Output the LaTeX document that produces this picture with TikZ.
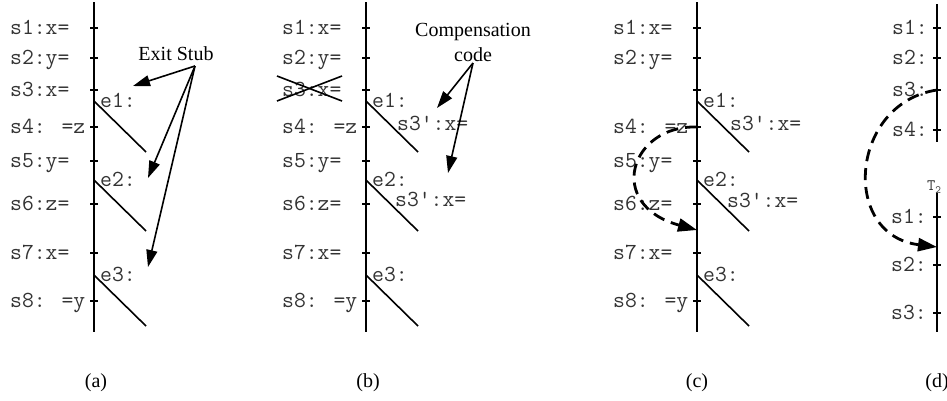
\documentclass[tikz,border=0pt]{standalone}
\usepackage{fontspec}
\setmainfont{Liberation Serif}
\usetikzlibrary{arrows.meta}
\begin{document}
\begin{tikzpicture}[x=1pt,y=-1pt,
  axis/.style={line width=2.2pt},
  tickmark/.style={line width=1.8pt},
  stub/.style={line width=1.6pt},
  lbl/.style={font=\ttfamily\fontsize{23}{23}\selectfont, text=black!80, inner sep=0pt, anchor=base west},
  smalllbl/.style={font=\ttfamily\fontsize{16}{16}\selectfont, text=black!80, inner sep=0pt, anchor=base west},
  captext/.style={font=\fontsize{20}{25}\selectfont, inner sep=0pt, align=center},
  callout/.style={line width=1.6pt, -{Triangle[length=17pt,width=11pt]}},
  flow/.style={line width=2.8pt, dash pattern=on 12pt off 7pt, -{Triangle[length=19pt,width=13pt]}},
]
\useasboundingbox (0,0) rectangle (947,400);

% ---- panels a, b, c: axis, ticks, exit stubs
\foreach \p/\x in {a/94,b/366,c/697} {
  \coordinate (\p-top) at (\x,2);
  \coordinate (\p-bot) at (\x,332);
  \draw[axis] (\p-top) -- (\p-bot);
  \foreach \i/\y in {1/28,2/58,3/90,4/127,5/161,6/204,7/253,8/301} {
    \coordinate (\p-t\i) at (\x,\y);
    \draw[tickmark] ([xshift=-4pt]\p-t\i) -- ([xshift=4pt]\p-t\i);
  }
  \foreach \i/\y in {1/101,2/180,3/275} {
    \coordinate (\p-e\i) at (\x,\y);
    \coordinate (\p-f\i) at (\x+52,\y+51);
    \draw[stub] (\p-e\i) -- (\p-f\i);
    \node[lbl] (\p-el\i) at (\x+6,\y+6) {e\i:};
  }
}

% ---- statement labels
\foreach \p/\x in {a/10,b/282,c/613} {
  \node[lbl] (\p-s1) at (\x,34) {s1:x=};
  \node[lbl] (\p-s2) at (\x,64) {s2:y=};
  \node[lbl] (\p-s4) at (\x,133) {s4: =z};
  \node[lbl] (\p-s5) at (\x,167) {s5:y=};
  \node[lbl] (\p-s6) at (\x,210) {s6:z=};
  \node[lbl] (\p-s7) at (\x,259) {s7:x=};
  \node[lbl] (\p-s8) at (\x,307) {s8: =y};
}
\node[lbl] (a-s3) at (10,96) {s3:x=};
\node[lbl] (b-s3) at (282,96) {s3:x=};
\coordinate (bxa) at (277,76); \coordinate (bxb) at (342,101);
\coordinate (bxc) at (277,101); \coordinate (bxd) at (342,76);
\draw[stub] (bxa) -- (bxb);
\draw[stub] (bxc) -- (bxd);

% ---- compensation code copies
\node[lbl] (b-c1) at (397,130) {s3':x=};
\node[lbl] (b-c2) at (395,206) {s3':x=};
\node[lbl] (c-c1) at (730,130) {s3':x=};
\node[lbl] (c-c2) at (727,207) {s3':x=};

% ---- callouts
\node[captext] (exit) at (176,54) {Exit Stub};
\coordinate (exsrc) at (195,66);
\coordinate (exA) at (133,86);
\coordinate (exB) at (148,178);
\coordinate (exC) at (148,267);
\draw[callout] (exsrc) -- (exA);
\draw[callout] (exsrc) -- (exB);
\draw[callout] (exsrc) -- (exC);

\node[captext] (comp) at (473,42) {Compensation\\code};
\coordinate (cpsrc) at (473,63);
\coordinate (cpA) at (437,108);
\coordinate (cpB) at (448,173);
\draw[callout] (cpsrc) -- (cpA);
\draw[callout] (cpsrc) -- (cpB);

% ---- panel c flow arc
\coordinate (c-in) at (697,230);
\draw[flow] (c-t4) .. controls (630,125) and (605,205) .. (c-in);

% ---- panel d
\coordinate (d-top) at (937,4);
\coordinate (d-bot) at (937,142);
\draw[axis] (d-top) -- (d-bot);
\foreach \i/\y in {1/28,2/58,3/90,4/130} {
  \coordinate (d-t\i) at (937,\y);
  \draw[tickmark] ([xshift=-4pt]d-t\i) -- ([xshift=4pt]d-t\i);
  \node[lbl] (d-s\i) at (892,\y+6) {s\i:};
}
\coordinate (dd-top) at (937,193);
\coordinate (dd-bot) at (937,332);
\draw[axis] (dd-top) -- (dd-bot);
\foreach \i/\y in {1/217,2/265,3/313} {
  \coordinate (dd-t\i) at (937,\y);
  \draw[tickmark] ([xshift=-4pt]dd-t\i) -- ([xshift=4pt]dd-t\i);
  \node[lbl] (dd-s\i) at (891,\y+6) {s\i:};
}
\node[smalllbl] (T2) at (927,190) {T\raisebox{-3pt}{\fontsize{11}{11}\selectfont 2}};
\coordinate (d-in) at (937,247);
\draw[flow] (d-t3) .. controls (850,103) and (840,235) .. (d-in);

% ---- captions
\node[captext] (capa) at (96,383) {(a)};
\node[captext] (capb) at (368,383) {(b)};
\node[captext] (capc) at (697,383) {(c)};
\node[captext] (capd) at (937,383) {(d)};
\end{tikzpicture}
\end{document}
